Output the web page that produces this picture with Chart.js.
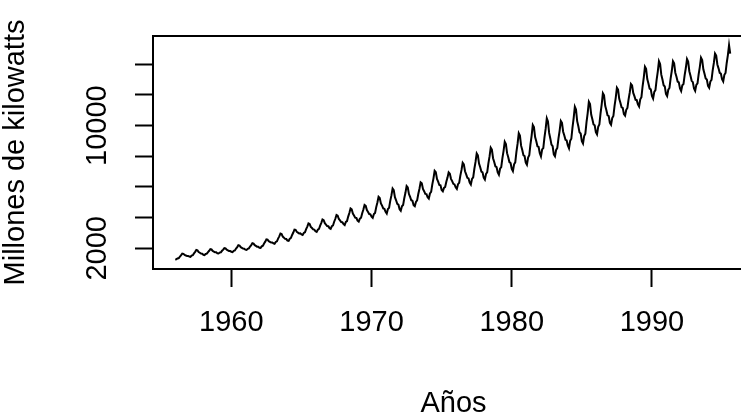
<!DOCTYPE html>
<html>
<head>
<meta charset="utf-8">
<script src="https://cdn.jsdelivr.net/npm/chart.js@4.4.0/dist/chart.umd.min.js"></script>
<style>
    html, body { margin: 0; padding: 0; background: #fff; overflow: hidden; }
    #elec-chart { display: block; }
</style>
</head>
<body>
<canvas id="elec-chart" width="760" height="415"></canvas>
<script>
// monthly production, one row per year, starting January 1956
const startYear = 1956;
const elec1950s = [
    1254, 1290, 1337, 1363, 1464, 1549, 1650, 1639, 1563, 1534, 1498, 1503,
    1462, 1440, 1522, 1548, 1670, 1768, 1890, 1868, 1758, 1712, 1658, 1652,
    1577, 1558, 1628, 1650, 1753, 1837, 1940, 1921, 1828, 1788, 1742, 1737,
    1675, 1658, 1722, 1742, 1838, 1915, 2010, 1993, 1905, 1869, 1826, 1821
];
const elec1960s = [
    1771, 1752, 1833, 1861, 1982, 2079, 2200, 2181, 2075, 2032, 1982, 1977,
    1911, 1890, 1970, 1996, 2115, 2211, 2330, 2309, 2202, 2157, 2105, 2099,
    2035, 2023, 2126, 2167, 2313, 2434, 2580, 2568, 2460, 2421, 2374, 2380,
    2328, 2294, 2415, 2454, 2635, 2779, 2960, 2926, 2762, 2694, 2612, 2603,
    2496, 2483, 2620, 2675, 2868, 3027, 3220, 3207, 3070, 3024, 2965, 2977,
    2904, 2867, 3004, 3047, 3252, 3415, 3620, 3583, 3398, 3322, 3231, 3221,
    3108, 3067, 3214, 3261, 3482, 3659, 3880, 3839, 3636, 3550, 3451, 3437,
    3314, 3271, 3435, 3488, 3731, 3926, 4170, 4127, 3910, 3820, 3712, 3702,
    3579, 3518, 3715, 3773, 4068, 4305, 4600, 4539, 4261, 4140, 4000, 3979,
    3798, 3740, 3936, 3996, 4290, 4526, 4820, 4762, 4488, 4370, 4234, 4214
];
const elec1970s = [
    4060, 3984, 4234, 4309, 4685, 4985, 5360, 5284, 4931, 4780, 4604, 4577,
    4375, 4264, 4560, 4637, 5090, 5448, 5900, 5789, 5333, 5129, 4893, 4844,
    4540, 4443, 4737, 4820, 5263, 5617, 6060, 5963, 5537, 5350, 5133, 5097,
    4808, 4742, 5026, 5122, 5542, 5880, 6300, 6234, 5870, 5723, 5549, 5536,
    5328, 5242, 5571, 5677, 6167, 6560, 7050, 6964, 6525, 6343, 6129, 6106,
    5794, 5713, 5937, 5997, 6338, 6609, 6950, 6869, 6529, 6377, 6201, 6167,
    5977, 5873, 6183, 6270, 6738, 7112, 7580, 7476, 7023, 6823, 6592, 6552,
    6282, 6157, 6525, 6628, 7187, 7631, 8190, 8065, 7521, 7282, 7005, 6955,
    6606, 6478, 6855, 6961, 7533, 7988, 8560, 8432, 7876, 7632, 7347, 7298,
    6945, 6798, 7188, 7288, 7883, 8355, 8950, 8803, 8204, 7934, 7622, 7559
];
const elec1980s = [
    7184, 7033, 7481, 7606, 8283, 8823, 9500, 9349, 8693, 8404, 8069, 8011,
    7587, 7450, 7921, 8065, 8770, 9335, 10040, 9903, 9251, 8973, 8649, 8605,
    8200, 7996, 8443, 8538, 9236, 9783, 10480, 10276, 9520, 9164, 8760, 8655,
    8116, 7996, 8416, 8545, 9171, 9673, 10300, 10180, 9604, 9359, 9072, 9035,
    8707, 8523, 9013, 9140, 9888, 10482, 11230, 11046, 10293, 9953, 9562, 9482,
    8978, 8830, 9326, 9476, 10220, 10816, 11560, 11412, 10718, 10420, 10074, 10024,
    9574, 9432, 9919, 10067, 10797, 11380, 12110, 11968, 11293, 11007, 10671, 10626,
    10174, 10050, 10491, 10627, 11285, 11812, 12470, 12346, 11745, 11492, 11194, 11158,
    10746, 10650, 11028, 11150, 11710, 12160, 12720, 12624, 12128, 11924, 11682, 11660,
    11389, 11246, 11718, 11858, 12566, 13132, 13840, 13697, 13033, 12748, 12415, 12366
];
const elec1990s = [
    11940, 11763, 12203, 12311, 12988, 13523, 14200, 14023, 13323, 13003, 12635, 12553,
    12070, 11929, 12341, 12456, 13080, 13576, 14200, 14059, 13451, 13183, 12872, 12816,
    12417, 12250, 12626, 12710, 13295, 13755, 14340, 14173, 13546, 13253, 12919, 12835,
    12417, 12265, 12656, 12755, 13355, 13830, 14430, 14278, 13666, 13388, 13069, 13000,
    12595, 12465, 12871, 12988, 13600, 14088, 14700, 14570, 13987, 13734, 13439, 13392,
    13026, 12883, 13313, 13434, 14083, 14601, 15250, 14700
];

const xTicks = [1960, 1970, 1980, 1990];
const yTicks = [2000, 4000, 6000, 8000, 10000, 12000, 14000];
const yLabelsShown = [2000, 10000];

const elec = elec1950s.concat(elec1960s, elec1970s, elec1980s, elec1990s);
var points = [];
for (var i = 0; i < elec.length; i++) {
    points.push({ x: startYear + i / 12, y: elec[i] });
}

Chart.defaults.font.family = '"Liberation Sans", Arial, sans-serif';
Chart.defaults.color = '#000';
Chart.defaults.animation = false;
Chart.defaults.responsive = false;

const axisFont = { size: 29 };
const titleFont = { size: 29, lineHeight: 1 };

const ctx = document.getElementById('elec-chart').getContext('2d');
var elecChart = new Chart(ctx, {
    type: 'line',
    data: {
        datasets: [{
            data: points,
            borderColor: '#000',
            borderWidth: 2,
            pointRadius: 0,
            tension: 0,
            fill: false
        }]
    },
    options: {
        devicePixelRatio: 1,
        layout: { padding: { top: 36, right: 6, bottom: 0, left: 0 } },
        plugins: { legend: { display: false }, tooltip: { enabled: false } },
        scales: {
            x: {
                type: 'linear',
                position: 'bottom',
                min: 1954.41,
                max: 1997.28,
                afterBuildTicks: function (scale) {
                    scale.ticks = xTicks.map(function (v) { return { value: v }; });
                },
                afterFit: function (scale) { scale.height = 146; },
                ticks: {
                    font: axisFont,
                    padding: 19,
                    maxRotation: 0,
                    autoSkip: false,
                    callback: function (v) { return String(v); }
                },
                grid: {
                    drawOnChartArea: false,
                    drawTicks: true,
                    tickLength: 18,
                    tickWidth: 2,
                    tickColor: '#000'
                },
                border: { display: true, color: '#000', width: 2 },
                title: {
                    display: true,
                    text: 'Años',
                    font: titleFont,
                    padding: { top: 0, bottom: -3 }
                }
            },
            xTop: {
                type: 'linear',
                position: 'top',
                min: 1954.41,
                max: 1997.28,
                ticks: { display: false },
                grid: { drawOnChartArea: false, drawTicks: false },
                border: { display: true, color: '#000', width: 2 },
                afterFit: function (scale) { scale.height = 0; }
            },
            y: {
                type: 'linear',
                min: 650,
                max: 15843,
                afterBuildTicks: function (scale) {
                    scale.ticks = yTicks.map(function (v) { return { value: v }; });
                },
                afterFit: function (scale) { scale.width = 153; },
                ticks: {
                    font: axisFont,
                    minRotation: 90,
                    maxRotation: 90,
                    crossAlign: 'center',
                    autoSkip: false,
                    padding: -3,
                    callback: function (v) {
                        return yLabelsShown.indexOf(v) >= 0 ? String(v) : '';
                    }
                },
                grid: {
                    drawOnChartArea: false,
                    drawTicks: true,
                    tickLength: 18,
                    tickWidth: 2,
                    tickColor: '#000'
                },
                border: { display: true, color: '#000', width: 2 },
                title: {
                    display: true,
                    text: 'Millones de kilowatts',
                    font: titleFont,
                    padding: { top: 1, bottom: 0 }
                }
            }
        }
    }
});
</script>
</body>
</html>
